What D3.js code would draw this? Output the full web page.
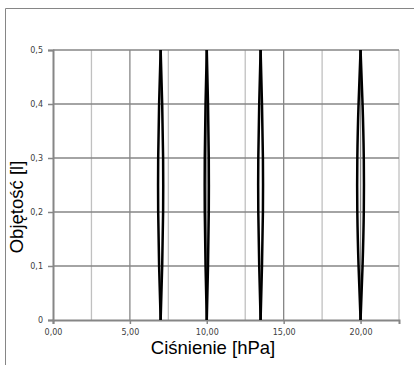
<!DOCTYPE html>
<html>
<head>
<meta charset="utf-8">
<script src="https://cdn.jsdelivr.net/npm/d3@7"></script>
<style>
  body { margin: 0; background: #fff; }
  svg { display: block; }
</style>
</head>
<body>
<div id="chart"></div>
<script>
// Objętość vs ciśnienie - four narrow loops
const volumes = [0, 0.1, 0.2, 0.3, 0.4, 0.5];
const loopUp = [
    [7.00, 6.90, 6.84, 6.84, 6.90, 7.00],
    [10.00, 9.92, 9.87, 9.87, 9.92, 10.00],
    [13.50, 13.41, 13.35, 13.35, 13.41, 13.50],
    [20.00, 19.87, 19.79, 19.79, 19.87, 20.00]
];
const loopDown = [
    [7.00, 7.10, 7.16, 7.16, 7.10, 7.00],
    [10.00, 10.08, 10.13, 10.13, 10.08, 10.00],
    [13.50, 13.59, 13.65, 13.65, 13.59, 13.50],
    [20.00, 20.13, 20.21, 20.21, 20.13, 20.00]
];
const xTicks = [0, 5, 10, 15, 20];
const xGrid = [2.5, 5, 7.5, 10, 12.5, 15, 17.5, 20, 22.5];
const yTicks = [0, 0.1, 0.2, 0.3, 0.4, 0.5];

const width = 414, height = 365;

const svg = d3.select('#chart')
    .append('svg')
    .attr('width', width)
    .attr('height', height);

// outer chart frame (clipped at right/bottom)
svg.append('path')
    .attr('d', `M5.5,${height} V8.5 H${width}`)
    .attr('fill', 'none')
    .attr('stroke', '#868686')
    .attr('stroke-width', 1);

const x = d3.scaleLinear().domain([0, 22.5]).range([53, 399]);
const y = d3.scaleLinear().domain([0, 0.5]).range([320, 50]);

// vertical gridlines
svg.append('g')
    .selectAll('line')
    .data(xGrid)
    .enter()
    .append('line')
    .attr('x1', d => x(d)).attr('x2', d => x(d))
    .attr('y1', y(0)).attr('y2', y(0.5))
    .attr('stroke', d => d % 5 === 0 ? '#868686' : '#c0c0c0')
    .attr('stroke-width', 1.3);

// horizontal gridlines
svg.append('g')
    .selectAll('line')
    .data(yTicks.slice(1))
    .enter()
    .append('line')
    .attr('x1', x(0)).attr('x2', x(22.5))
    .attr('y1', d => y(d)).attr('y2', d => y(d))
    .attr('stroke', '#868686')
    .attr('stroke-width', 1.3);

// axes
const fmtX = d => d3.format('.2f')(d).replace('.', ',');
const fmtY = d => d === 0 ? '0' : d3.format('.1f')(d).replace('.', ',');

const xAxis = svg.append('g')
    .attr('transform', `translate(0,${y(0)})`)
    .call(d3.axisBottom(x).tickValues(xTicks).tickFormat(fmtX).tickSize(4).tickPadding(5));

const yAxis = svg.append('g')
    .attr('transform', `translate(${x(0)},0)`)
    .call(d3.axisLeft(y).tickValues(yTicks).tickFormat(fmtY).tickSize(5).tickPadding(5));

[xAxis, yAxis].forEach(a => {
    a.select('.domain').attr('stroke', '#868686').attr('stroke-width', 2);
    a.selectAll('.tick line').attr('stroke', '#868686').attr('stroke-width', 1.5);
    a.selectAll('.tick text')
        .attr('fill', '#404040')
        .attr('font-family', 'DejaVu Sans, Verdana, sans-serif')
        .attr('font-size', '8px');
});

// loops
const line = d3.line()
    .x(d => x(d[0]))
    .y(d => y(d[1]))
    .curve(d3.curveNatural);

loopUp.forEach((up, i) => {
    [up, loopDown[i]].forEach(branch => {
        svg.append('path')
            .datum(branch.map((p, j) => [p, volumes[j]]))
            .attr('d', line)
            .attr('fill', 'none')
            .attr('stroke', '#000')
            .attr('stroke-width', 2.5);
    });
});

// axis titles
svg.append('text')
    .attr('x', 213)
    .attr('y', 354)
    .attr('text-anchor', 'middle')
    .attr('font-family', 'Liberation Sans, Arial, sans-serif')
    .attr('font-size', '18.5px')
    .attr('fill', '#000')
    .text('Ciśnienie [hPa]');

svg.append('text')
    .attr('transform', 'rotate(-90)')
    .attr('x', -207)
    .attr('y', 23)
    .attr('text-anchor', 'middle')
    .attr('font-family', 'Liberation Sans, Arial, sans-serif')
    .attr('font-size', '18.5px')
    .attr('fill', '#000')
    .text('Objętość [l]');
</script>
</body>
</html>
